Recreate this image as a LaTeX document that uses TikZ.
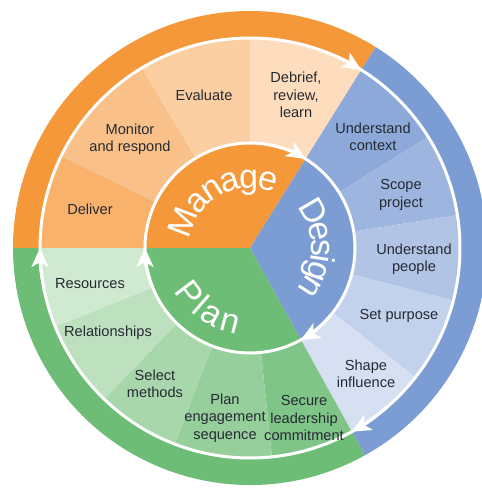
\documentclass[tikz,border=0pt]{standalone}
\usepackage{fontspec}
\setmainfont{Liberation Sans}
\usetikzlibrary{arrows.meta}
\definecolor{cOr}{HTML}{F4983A}
\definecolor{cBl}{HTML}{7C9DD3}
\definecolor{cGr}{HTML}{6EBD77}
\definecolor{mA}{HTML}{F8B26C}
\definecolor{mB}{HTML}{F9C189}
\definecolor{mC}{HTML}{FBCFA2}
\definecolor{mD}{HTML}{FDDDBD}
\definecolor{dA}{HTML}{8CA9D9}
\definecolor{dB}{HTML}{9EB6DF}
\definecolor{dC}{HTML}{B1C4E6}
\definecolor{dD}{HTML}{C3D2EC}
\definecolor{dE}{HTML}{D6E0F2}
\definecolor{pA}{HTML}{80C588}
\definecolor{pB}{HTML}{96CF9B}
\definecolor{pC}{HTML}{A9D7AC}
\definecolor{pD}{HTML}{BDE0BF}
\definecolor{pE}{HTML}{D0E9D1}
\definecolor{txt}{HTML}{262A33}
\newcommand\ringseg[5]{\fill[#5] (#1:#3) arc[start angle=#1, end angle=#2, radius=#3] -- (#2:#4) arc[start angle=#2, end angle=#1, radius=#4] -- cycle;}
\newcommand\pie[3]{\fill[#3] (0,0) -- (#1:105) arc[start angle=#1, end angle=#2, radius=105] -- cycle;}
\begin{document}
\begin{tikzpicture}[x=1pt,y=1pt,
  lbl/.style={align=center, font=\fontsize{14.6}{17.5}\selectfont, text=txt, inner sep=0pt},
  big/.style={font=\fontsize{34}{34}\selectfont, text=white, inner sep=0pt, anchor=base},
  wline/.style={white, line width=3pt},
  warrow/.style={white, line width=3pt, -{Stealth[length=19pt,width=17pt,inset=5pt]}}]
\useasboundingbox (-250,-240) rectangle (232,248);
\clip (-250,-240) rectangle (232,248);
% outer band
\ringseg{58}{180}{209}{237}{cOr}
\ringseg{180}{299}{209}{237}{cGr}
\ringseg{-61}{58}{209}{237}{cBl}
% middle ring: Manage
\ringseg{154}{180}{104}{211}{mA}
\ringseg{121}{154}{104}{211}{mB}
\ringseg{90}{121}{104}{211}{mC}
\ringseg{58}{90}{104}{211}{mD}
% Design
\ringseg{32}{58}{104}{211}{dA}
\ringseg{9}{32}{104}{211}{dB}
\ringseg{-14.5}{9}{104}{211}{dC}
\ringseg{-38}{-14.5}{104}{211}{dD}
\ringseg{-61}{-38}{104}{211}{dE}
% Plan
\ringseg{-84}{-61}{104}{211}{pA}
\ringseg{-111}{-84}{104}{211}{pB}
\ringseg{-134}{-111}{104}{211}{pC}
\ringseg{-158}{-134}{104}{211}{pD}
\ringseg{-180}{-158}{104}{211}{pE}
% inner
\pie{58}{180}{cOr}
\pie{-61}{58}{cBl}
\pie{180}{299}{cGr}
% white circles
\draw[wline] (0,0) circle[radius=105];
\draw[wline] (0,0) circle[radius=210];
% arrows
\draw[warrow] (80:105) arc[start angle=80, end angle=58, radius=105];
\draw[warrow] (-39:105) arc[start angle=-39, end angle=-61, radius=105];
\draw[warrow] (-158:105) arc[start angle=-158, end angle=-180, radius=105];
\draw[warrow] (70:210) arc[start angle=70, end angle=58, radius=210];
\draw[warrow] (-49:210) arc[start angle=-49, end angle=-61, radius=210];
\draw[warrow] (-168:210) arc[start angle=-168, end angle=-180, radius=210];
% big letters
\foreach \ch/\a [count=\i] in {M/159,a/139,n/123,a/107,g/91,e/75}
  \node[big, rotate=\a-90] (man\i) at (\a:60) {\ch};
\foreach \ch/\a [count=\i] in {D/30,e/13.7,s/0.3,i/-8.9,g/-18.8,n/-33}
  \node[big, rotate=\a-90] (des\i) at (\a:62) {\ch};
\foreach \ch/\a [count=\i] in {P/-143,l/-131,a/-120,n/-105}
  \node[big, rotate=\a+90] (pla\i) at (\a:87) {\ch};
% labels
\node[lbl] (evaluate) at (-46,153) {Evaluate};
\node[lbl] (monitor) at (-120,109) {Monitor\\and respond};
\node[lbl] (deliver) at (-160,39) {Deliver};
\node[lbl] (debrief) at (46,153) {Debrief,\\review,\\learn};
\node[lbl] (context) at (123,111) {Understand\\context};
\node[lbl] (scope) at (151,53) {Scope\\project};
\node[lbl] (people) at (164,-11) {Understand\\people};
\node[lbl] (purpose) at (149,-68) {Set purpose};
\node[lbl] (shape) at (116,-126) {Shape\\influence};
\node[lbl] (secure) at (54,-170) {Secure\\leadership\\commitment};
\node[lbl] (sequence) at (-25,-170) {Plan\\engagement\\sequence};
\node[lbl] (methods) at (-95,-136) {Select\\methods};
\node[lbl] (relations) at (-142,-85) {Relationships};
\node[lbl] (resources) at (-160,-36) {Resources};
\end{tikzpicture}
\end{document}
